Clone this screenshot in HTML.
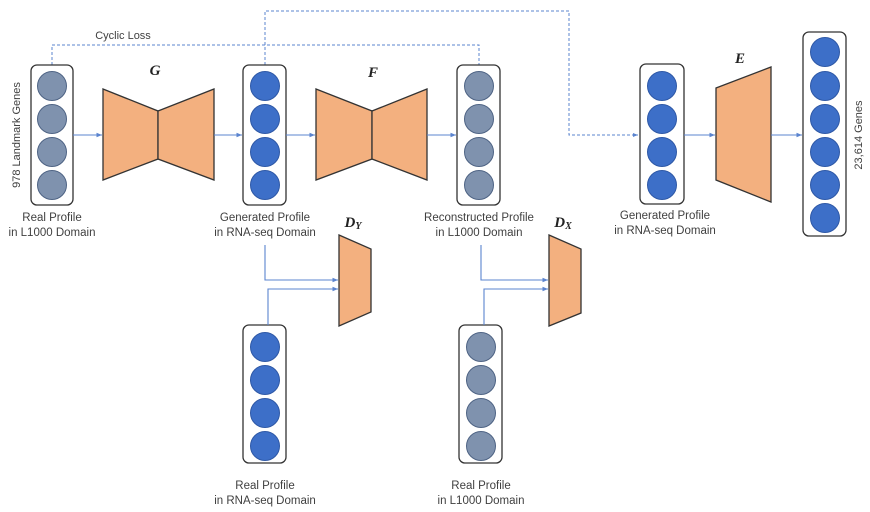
<!DOCTYPE html>
<html><head><meta charset="utf-8"><style>
html,body{margin:0;padding:0;background:#fff;}
svg{display:block;font-family:"Liberation Sans",sans-serif;}
.lbl{font-size:11.5px;fill:#404040;text-anchor:middle;}
.t{font-family:"Liberation Serif",serif;font-weight:bold;font-style:italic;font-size:15px;fill:#222;text-anchor:middle;}
.box{fill:#fff;stroke:#333;stroke-width:1.3;}
.g{fill:#7f92ae;stroke:#4e6384;stroke-width:1;}
.b{fill:#3d6fc8;stroke:#2e58a6;stroke-width:1;}
.tr{fill:#f3b07f;stroke:#333;stroke-width:1.3;}
.ln{stroke:#5b84cf;stroke-width:1.1;fill:none;}
.d{stroke:#5b84cf;stroke-width:1;fill:none;stroke-dasharray:3,2;}
</style></head><body>
<svg width="870" height="512" viewBox="0 0 870 512">
<defs><marker id="a" markerWidth="6" markerHeight="6" refX="5" refY="3" orient="auto"><path d="M0,1 L5,3 L0,5z" fill="#5b84cf"/></marker></defs>
<!-- dashed -->
<path class="d" d="M52,65 V45 H479 V65"/>
<path class="d" d="M265,65 V11 H569 V135 H638" marker-end="url(#a)"/>
<text x="123" y="39" class="lbl" style="font-size:11px">Cyclic Loss</text>
<!-- boxes -->
<rect class="box" x="31" y="65" width="42" height="140" rx="6"/>
<circle class="g" cx="52" cy="86" r="14.5"/><circle class="g" cx="52" cy="119" r="14.5"/><circle class="g" cx="52" cy="152" r="14.5"/><circle class="g" cx="52" cy="185" r="14.5"/>
<rect class="box" x="243" y="65" width="43" height="140" rx="6"/>
<circle class="b" cx="265" cy="86" r="14.5"/><circle class="b" cx="265" cy="119" r="14.5"/><circle class="b" cx="265" cy="152" r="14.5"/><circle class="b" cx="265" cy="185" r="14.5"/>
<rect class="box" x="457" y="65" width="43" height="140" rx="6"/>
<circle class="g" cx="479" cy="86" r="14.5"/><circle class="g" cx="479" cy="119" r="14.5"/><circle class="g" cx="479" cy="152" r="14.5"/><circle class="g" cx="479" cy="185" r="14.5"/>
<rect class="box" x="640" y="64" width="44" height="140" rx="6"/>
<circle class="b" cx="662" cy="86" r="14.5"/><circle class="b" cx="662" cy="119" r="14.5"/><circle class="b" cx="662" cy="152" r="14.5"/><circle class="b" cx="662" cy="185" r="14.5"/>
<rect class="box" x="803" y="32" width="43" height="204" rx="6"/>
<circle class="b" cx="825" cy="52" r="14.5"/><circle class="b" cx="825" cy="86" r="14.5"/><circle class="b" cx="825" cy="119" r="14.5"/><circle class="b" cx="825" cy="152" r="14.5"/><circle class="b" cx="825" cy="185" r="14.5"/><circle class="b" cx="825" cy="218" r="14.5"/>
<rect class="box" x="243" y="325" width="43" height="138" rx="6"/>
<circle class="b" cx="265" cy="347" r="14.5"/><circle class="b" cx="265" cy="380" r="14.5"/><circle class="b" cx="265" cy="413" r="14.5"/><circle class="b" cx="265" cy="446" r="14.5"/>
<rect class="box" x="459" y="325" width="43" height="138" rx="6"/>
<circle class="g" cx="481" cy="347" r="14.5"/><circle class="g" cx="481" cy="380" r="14.5"/><circle class="g" cx="481" cy="413" r="14.5"/><circle class="g" cx="481" cy="446" r="14.5"/>
<!-- trapezoids -->
<path class="tr" d="M103,89 L158,111 L158,159 L103,180z"/><path class="tr" d="M158,111 L214,89 L214,180 L158,159z"/>
<path class="tr" d="M316,89 L372,111 L372,159 L316,180z"/><path class="tr" d="M372,111 L427,89 L427,180 L372,159z"/>
<path class="tr" d="M716,88 L771,67 L771,202 L716,180z"/>
<path class="tr" d="M339,235 L371,249 L371,312 L339,326z"/>
<path class="tr" d="M549,235 L581,249 L581,313 L549,326z"/>
<!-- arrows -->
<path class="ln" d="M73,135 H102" marker-end="url(#a)"/>
<path class="ln" d="M214,135 H242" marker-end="url(#a)"/>
<path class="ln" d="M286,135 H315" marker-end="url(#a)"/>
<path class="ln" d="M427,135 H456" marker-end="url(#a)"/>
<path class="ln" d="M684,135 H715" marker-end="url(#a)"/>
<path class="ln" d="M771,135 H802" marker-end="url(#a)"/>
<path class="ln" d="M265,245 V280 H338" marker-end="url(#a)"/>
<path class="ln" d="M268,325 V289 H338" marker-end="url(#a)"/>
<path class="ln" d="M481,245 V280 H548" marker-end="url(#a)"/>
<path class="ln" d="M484,325 V289 H548" marker-end="url(#a)"/>
<!-- titles -->
<text class="t" x="155" y="75">G</text>
<text class="t" x="373" y="77">F</text>
<text class="t" x="740" y="63">E</text>
<text class="t" x="353" y="227">D<tspan font-size="10" dy="2">Y</tspan></text>
<text class="t" x="563" y="227">D<tspan font-size="10" dy="2">X</tspan></text>
<!-- labels -->
<text class="lbl" x="52" y="221">Real Profile</text><text class="lbl" x="52" y="236">in L1000 Domain</text>
<text class="lbl" x="265" y="221">Generated Profile</text><text class="lbl" x="265" y="236">in RNA-seq Domain</text>
<text class="lbl" x="479" y="221">Reconstructed Profile</text><text class="lbl" x="479" y="236">in L1000 Domain</text>
<text class="lbl" x="665" y="219">Generated Profile</text><text class="lbl" x="665" y="234">in RNA-seq Domain</text>
<text class="lbl" x="265" y="489">Real Profile</text><text class="lbl" x="265" y="504">in RNA-seq Domain</text>
<text class="lbl" x="481" y="489">Real Profile</text><text class="lbl" x="481" y="504">in L1000 Domain</text>
<text class="lbl" transform="translate(20,135) rotate(-90)" style="font-size:11px">978 Landmark Genes</text>
<text class="lbl" transform="translate(862,135) rotate(-90)" style="font-size:11px">23,614 Genes</text>
</svg>
</body></html>
